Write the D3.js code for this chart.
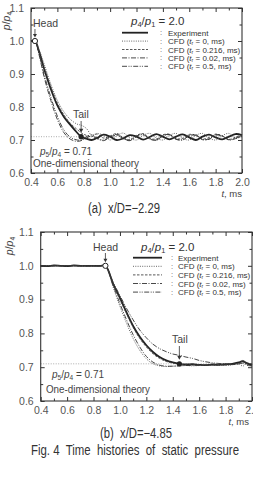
<!DOCTYPE html>
<html><head><meta charset="utf-8">
<script src="https://cdn.jsdelivr.net/npm/d3@7"></script>
<style>body{margin:0;background:#fff}svg{display:block}text{white-space:pre}</style>
</head><body>
<svg id="c" width="253" height="478"></svg>
<script>
// ---------- data ----------
const xTicks = [0.4,0.6,0.8,1.0,1.2,1.4,1.6,1.8,2.0];
const yTicks = [0.6,0.7,0.8,0.9,1.0,1.1];
const seriesNames = ["Experiment","CFD (tr = 0, ms)","CFD (tr = 0.216, ms)","CFD (tr = 0.02, ms)","CFD (tr = 0.5, ms)"];
const trValues = [null,"0","0.216","0.02","0.5"];
const pressureRatio = "2.0";
const theoryValue = 0.71;

// panel (a) x/D = -2.29
const tA = [0.40,0.43,0.46,0.50,0.55,0.60,0.65,0.70,0.75,0.78,0.82,0.86,0.90,0.95,1.00,1.05,1.10,1.15,1.20,1.25,1.30,1.35,1.40,1.45,1.50,1.55,1.60,1.65,1.70,1.75,1.80,1.85,1.90,1.95,2.00];
const expA = [1.0,1.0,0.97,0.915,0.855,0.805,0.77,0.745,0.722,0.71,0.704,0.70,0.706,0.716,0.71,0.70,0.705,0.715,0.71,0.701,0.709,0.718,0.71,0.702,0.71,0.717,0.708,0.70,0.71,0.716,0.708,0.702,0.71,0.718,0.715];
const cfd0A = [1.0,1.0,0.975,0.93,0.87,0.82,0.785,0.762,0.748,0.745,0.735,0.715,0.72,0.714,0.70,0.713,0.721,0.706,0.70,0.714,0.72,0.706,0.70,0.714,0.72,0.705,0.70,0.714,0.72,0.706,0.70,0.713,0.72,0.706,0.71];
const cfd216A = [1.0,1.0,0.968,0.92,0.862,0.812,0.776,0.75,0.732,0.722,0.714,0.71,0.718,0.706,0.712,0.72,0.707,0.701,0.714,0.719,0.705,0.703,0.716,0.717,0.704,0.705,0.717,0.714,0.703,0.707,0.718,0.712,0.702,0.708,0.716];
const cfd002A = [1.0,1.0,0.96,0.89,0.82,0.762,0.722,0.702,0.696,0.698,0.706,0.712,0.704,0.698,0.708,0.715,0.704,0.698,0.71,0.716,0.703,0.699,0.712,0.716,0.702,0.70,0.713,0.714,0.701,0.702,0.715,0.712,0.70,0.704,0.712];
const cfd05A = [1.0,1.0,0.963,0.898,0.83,0.772,0.73,0.708,0.70,0.70,0.71,0.716,0.706,0.70,0.71,0.717,0.705,0.699,0.712,0.718,0.704,0.70,0.713,0.717,0.703,0.701,0.714,0.716,0.702,0.703,0.716,0.713,0.701,0.705,0.713];
const headA = [0.43,1.0];
const tailA = [0.78,0.71];

// panel (b) x/D = -4.85
const tB = [0.40,0.45,0.50,0.55,0.60,0.65,0.70,0.75,0.80,0.85,0.89,0.95,1.00,1.05,1.10,1.15,1.20,1.25,1.30,1.35,1.40,1.45,1.50,1.55,1.60,1.65,1.70,1.75,1.80,1.85,1.90,1.93,1.96,2.00];
const expB = [1.0,0.999,1.001,1.0,0.999,1.001,1.0,1.0,1.0,1.0,1.0,0.945,0.905,0.862,0.822,0.79,0.765,0.745,0.73,0.72,0.714,0.71,0.708,0.709,0.707,0.706,0.708,0.707,0.709,0.71,0.714,0.718,0.712,0.706];
const cfd0B = [1.0,1.0,1.0,1.0,1.0,1.0,1.0,1.0,1.0,1.0,1.0,0.935,0.88,0.83,0.785,0.75,0.725,0.71,0.704,0.702,0.703,0.704,0.705,0.704,0.705,0.706,0.705,0.706,0.705,0.707,0.71,0.703,0.712,0.708];
const cfd216B = [1.0,1.0,1.0,1.0,1.0,1.0,1.0,1.0,1.0,1.0,1.0,0.945,0.90,0.858,0.818,0.785,0.76,0.74,0.726,0.717,0.712,0.709,0.707,0.707,0.707,0.706,0.707,0.708,0.707,0.708,0.71,0.72,0.71,0.703];
const cfd002B = [1.0,1.0,1.0,1.0,1.0,1.0,1.0,1.0,1.0,1.0,1.0,0.94,0.888,0.84,0.796,0.76,0.732,0.715,0.706,0.703,0.703,0.704,0.705,0.705,0.706,0.706,0.707,0.706,0.707,0.708,0.712,0.716,0.706,0.704];
const cfd05B = [1.0,1.0,1.0,1.0,1.0,1.0,1.0,1.0,1.0,1.0,1.0,0.95,0.912,0.874,0.84,0.81,0.787,0.768,0.755,0.746,0.739,0.735,0.73,0.726,0.72,0.716,0.713,0.711,0.71,0.709,0.71,0.712,0.711,0.71];
const headB = [0.89,1.0];
const tailB = [1.45,0.71];

// ---------- drawing ----------
const svg = d3.select("#c");
const FONT = "'Liberation Sans', Arial, sans-serif";
const styles = [
  {w:1.8, dash:null, c:"#222"},
  {w:0.9, dash:"1,1.3", c:"#555"},
  {w:0.9, dash:"2.5,1.5", c:"#444"},
  {w:0.9, dash:"5,1.5,1,1.5", c:"#333"},
  {w:0.9, dash:"5,1.5,1,1.2,1,1.5", c:"#333"}
];

function subText(sel, parts){
  parts.forEach(p=>{
    const ts = sel.append("tspan").text(p[0]);
    if(p[1]) ts.attr("font-style","italic");
    if(p[2]) ts.attr("font-size","0.65em").attr("baseline-shift","-25%");
  });
}

function panel(cfg){
  const g = svg.append("g");
  const x = d3.scaleLinear().domain([0.4,2.0]).range([cfg.x0,cfg.x1]);
  const y = d3.scaleLinear().domain([0.6,1.1]).range([cfg.y0,cfg.y1]);

  g.append("line").attr("x1",x(0.4)).attr("x2",x(2.0)).attr("y1",y(theoryValue)).attr("y2",y(theoryValue))
    .attr("stroke","#888").attr("stroke-width",0.7).attr("stroke-dasharray","1,1.5");

  const line = d3.line().x(d=>x(d[0])).y(d=>y(d[1])).curve(d3.curveCatmullRom.alpha(0.5));
  cfg.series.forEach((s,i)=>{
    const pts = cfg.t.map((t,j)=>[t,s[j]]);
    const st = styles[i];
    g.append("path").attr("d",line(pts)).attr("fill","none").attr("stroke",st.c)
      .attr("stroke-width",st.w).attr("stroke-dasharray",st.dash);
  });

  g.append("rect").attr("x",cfg.x0).attr("y",cfg.y1).attr("width",cfg.x1-cfg.x0).attr("height",cfg.y0-cfg.y1)
    .attr("fill","none").attr("stroke","#333").attr("stroke-width",1.1);

  const xMinor = d3.range(0.5,2.0,0.2);
  const yMinor = d3.range(0.65,1.1,0.1);
  const ax = (axis, pos)=> g.append("g").attr("transform",pos).call(axis);
  ax(d3.axisBottom(x).tickValues(xTicks).tickSizeInner(-4).tickSizeOuter(0).tickPadding(6).tickFormat(d3.format(".1f")),`translate(0,${cfg.y0})`);
  ax(d3.axisBottom(x).tickValues(xMinor).tickSizeInner(-2.5).tickSizeOuter(0).tickFormat(""),`translate(0,${cfg.y0})`);
  ax(d3.axisTop(x).tickValues(xTicks).tickSizeInner(-4).tickSizeOuter(0).tickFormat(""),`translate(0,${cfg.y1})`);
  ax(d3.axisTop(x).tickValues(xMinor).tickSizeInner(-2.5).tickSizeOuter(0).tickFormat(""),`translate(0,${cfg.y1})`);
  const left = ax(d3.axisLeft(y).tickValues(yTicks).tickSizeInner(-4).tickSizeOuter(0).tickPadding(7).tickFormat(d3.format(".1f")),`translate(${cfg.x0},0)`);
  ax(d3.axisLeft(y).tickValues(yMinor).tickSizeInner(-2.5).tickSizeOuter(0).tickFormat(""),`translate(${cfg.x0},0)`);
  ax(d3.axisRight(y).tickValues(yTicks).tickSizeInner(-4).tickSizeOuter(0).tickFormat(""),`translate(${cfg.x1},0)`);
  ax(d3.axisRight(y).tickValues(yMinor).tickSizeInner(-2.5).tickSizeOuter(0).tickFormat(""),`translate(${cfg.x1},0)`);
  g.selectAll(".domain").remove();
  g.selectAll(".tick line").attr("stroke","#333").attr("stroke-width",1);
  g.selectAll(".tick text").attr("font-family",FONT).attr("font-size",10.5).attr("fill","#555");

  const yt = g.append("text").attr("transform",`translate(${cfg.ylx},${cfg.yly}) rotate(-90)`)
    .attr("text-anchor","middle").attr("font-family",FONT).attr("font-size",10.5).attr("fill","#444");
  subText(yt,[["p",true],["/",false],["p",true],["4",false,true]]);
  const xt = g.append("text").attr("x",cfg.xlx).attr("y",cfg.xly).attr("text-anchor","end")
    .attr("font-family",FONT).attr("font-size",9.5).attr("fill","#444");
  subText(xt,[["t",true],[", ms",false]]);

  const lg = g.append("g").attr("font-family",FONT).attr("fill","#333");
  const lt = lg.append("text").attr("x",cfg.lgTitle[0]).attr("y",cfg.lgTitle[1]).attr("font-size",11.5).attr("fill","#333");
  subText(lt,[["p",true],["4",false,true],["/",false],["p",true],["1",false,true],[" = "+pressureRatio,false]]);
  seriesNames.forEach((n,i)=>{
    const yy = cfg.lgY0 + i*cfg.lgDy;
    const st = styles[i];
    lg.append("line").attr("x1",cfg.lgX0).attr("x2",cfg.lgX1).attr("y1",yy).attr("y2",yy)
      .attr("stroke",st.c).attr("stroke-width",i===0?1.8:0.9).attr("stroke-dasharray",st.dash);
    lg.append("text").attr("x",cfg.lgColon).attr("y",yy+2.5).attr("font-size",7.5).attr("fill","#555").text(":");
    const tx = lg.append("text").attr("x",cfg.lgText).attr("y",yy+3).attr("font-size",8).attr("fill","#333");
    if(i===0) tx.text(n);
    else subText(tx,[["CFD (",false],["t",true],["r",false,true],[" = "+trValues[i]+", ms)",false]]);
  });

  const hx = x(cfg.head[0]), hy = y(cfg.head[1]);
  const tx_ = x(cfg.tail[0]), ty = y(cfg.tail[1]);
  const ann = g.append("g").attr("font-family",FONT).attr("fill","#444");
  ann.append("text").attr("x",cfg.headText[0]).attr("y",cfg.headText[1]).attr("font-size",10.5).text("Head");
  ann.append("line").attr("x1",hx).attr("x2",hx).attr("y1",cfg.headText[1]+2).attr("y2",hy-6).attr("stroke","#333").attr("stroke-width",0.8);
  ann.append("path").attr("d",`M${hx-2},${hy-7}L${hx+2},${hy-7}L${hx},${hy-3.5}Z`).attr("fill","#333");
  ann.append("circle").attr("cx",hx).attr("cy",hy).attr("r",2.6).attr("fill","#fff").attr("stroke","#222").attr("stroke-width",1);
  ann.append("text").attr("x",cfg.tailText[0]).attr("y",cfg.tailText[1]).attr("font-size",10.5).text("Tail");
  ann.append("line").attr("x1",tx_).attr("x2",tx_).attr("y1",cfg.tailText[1]+3).attr("y2",ty-6).attr("stroke","#333").attr("stroke-width",0.8);
  ann.append("path").attr("d",`M${tx_-2.2},${ty-8}L${tx_+2.2},${ty-8}L${tx_},${ty-4}Z`).attr("fill","#333");
  ann.append("circle").attr("cx",tx_).attr("cy",ty).attr("r",2.6).attr("fill","#222");

  const th = ann.append("text").attr("x",cfg.thText1[0]).attr("y",cfg.thText1[1]).attr("font-size",10);
  subText(th,[["p",true],["5",false,true],["/",false],["p",true],["4",false,true],[" = "+theoryValue.toFixed(2),false]]);
  ann.append("text").attr("x",cfg.thText2[0]).attr("y",cfg.thText2[1]).attr("font-size",10)
    .attr("textLength",cfg.thText2[2]).attr("lengthAdjust","spacingAndGlyphs").text("One-dimensional theory");

  svg.append("text").attr("x",cfg.cap[0]).attr("y",cfg.cap[1]).attr("text-anchor","middle")
    .attr("font-family",FONT).attr("font-size",14).attr("fill","#333")
    .attr("textLength",cfg.cap[2]).attr("lengthAdjust","spacingAndGlyphs").text(cfg.capText);
}

panel({
  t:tA, series:[expA,cfd0A,cfd216A,cfd002A,cfd05A],
  x0:31, x1:242, y0:173, y1:8,
  ylx:10, yly:21, xlx:242, xly:197,
  lgTitle:[131,25], lgX0:122, lgX1:148, lgColon:160, lgText:168, lgY0:32.7, lgDy:8.4,
  head:headA, tail:tailA, headText:[33,27], tailText:[73,118],
  thText1:[40,155], thText2:[33,166.5,106],
  cap:[124,213,72], capText:"(a)  x/D=\u22122.29"
});
panel({
  t:tB, series:[expB,cfd0B,cfd216B,cfd002B,cfd05B],
  x0:40.7, x1:252, y0:401, y1:232,
  ylx:13, yly:246, xlx:249, xly:425,
  lgTitle:[141,251], lgX0:133, lgX1:162, lgColon:171, lgText:178, lgY0:257.7, lgDy:8.6,
  head:headB, tail:tailB, headText:[93,251], tailText:[172,343],
  thText1:[52,378], thText2:[46,393,104],
  cap:[136,438,72], capText:"(b)  x/D=\u22124.85"
});
svg.append("text").attr("x",135).attr("y",455).attr("text-anchor","middle")
  .attr("font-family",FONT).attr("font-size",14).attr("fill","#333")
  .attr("textLength",208).attr("lengthAdjust","spacingAndGlyphs").text("Fig. 4  Time  histories  of  static  pressure");
</script>
</body></html>
